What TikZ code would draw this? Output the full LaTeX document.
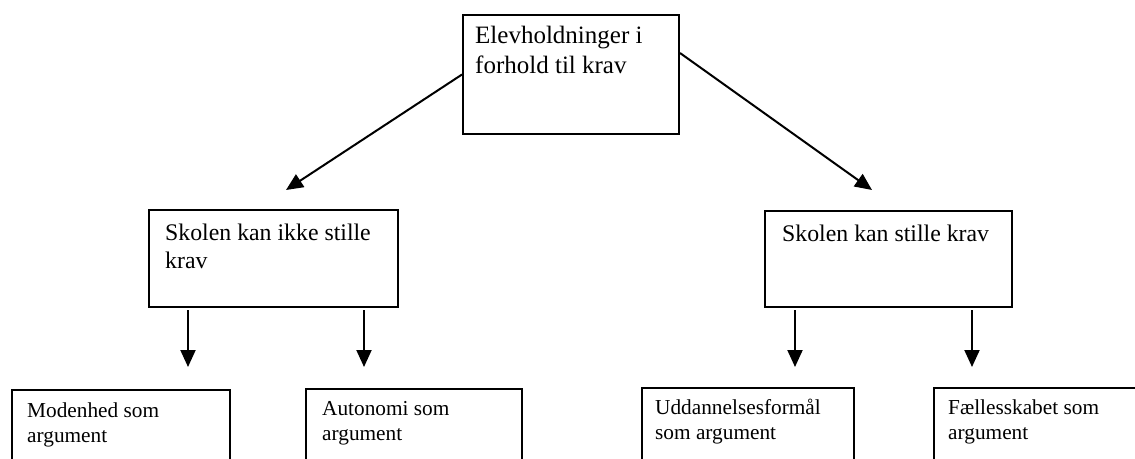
\documentclass[tikz,border=0pt]{standalone}
\usepackage{fontspec}
\setmainfont{Liberation Serif}
\usetikzlibrary{arrows.meta,calc}

\tikzset{
  frame/.style={draw=black, line width=2pt, rectangle, inner sep=0pt, anchor=north west},
  label/.style={anchor=base west, inner sep=0pt, align=left},
  toptext/.style={label, font=\fontsize{25}{30}\selectfont},
  midtext/.style={label, font=\fontsize{23.8}{27.5}\selectfont},
  lowtext/.style={label, font=\fontsize{21.3}{25}\selectfont},
  link/.style={line width=2pt, -{Triangle[length=17pt,width=15pt]}}
}

\begin{document}
\begin{tikzpicture}[x=1pt,y=-1pt]
  \useasboundingbox (0,0) rectangle (1135,458);
  \clip (0,0) rectangle (1135,458);

  % boxes
  \node[frame, minimum width=216pt, minimum height=119pt] (top) at (462,14) {};
  \node[frame, minimum width=249pt, minimum height=97pt] (lmid) at (148,209) {};
  \node[frame, minimum width=247pt, minimum height=96pt] (rmid) at (764,210) {};
  \node[frame, minimum width=218pt, minimum height=100pt] (b1) at (11,389) {};
  \node[frame, minimum width=216pt, minimum height=100pt] (b2) at (305,388) {};
  \node[frame, minimum width=212pt, minimum height=100pt] (b3) at (641,387) {};
  \node[frame, minimum width=230pt, minimum height=100pt] (b4) at (933,387) {};

  % texts (anchored at the baseline of their last line)
  \node[toptext] (ttop) at ($(top.north west)+(13,59)$) {Elevholdninger i\\forhold til krav};
  \node[midtext] (tlmid) at ($(lmid.north west)+(17,59)$) {Skolen kan ikke stille\\krav};
  \node[midtext] (trmid) at ($(rmid.north west)+(18,31)$) {Skolen kan stille krav};
  \node[lowtext] (tb1) at ($(b1.north west)+(16,53)$) {Modenhed som\\argument};
  \node[lowtext] (tb2) at ($(b2.north west)+(17,52)$) {Autonomi som\\argument};
  \node[lowtext] (tb3) at ($(b3.north west)+(14,52)$) {Uddannelsesformål\\som argument};
  \node[lowtext] (tb4) at ($(b4.north west)+(15,52)$) {Fællesskabet som\\argument};

  % free arrow ends
  \coordinate (lt) at (286,190);
  \coordinate (rt) at (872,190);
  \coordinate (rs) at ($(top.north east)+(0,39)$);
  \foreach \n/\x in {l1/188, l2/364} {
    \coordinate (\n s) at ($(lmid.south west -| \x,0)+(0,2)$);
    \coordinate (\n e) at (\x,367);
  }
  \foreach \n/\x in {r1/795, r2/972} {
    \coordinate (\n s) at ($(rmid.south west -| \x,0)+(0,2)$);
    \coordinate (\n e) at (\x,367);
  }

  % connectors
  \draw[link] (top.west) -- (lt);
  \draw[link] (rs) -- (rt);
  \draw[link] (l1s) -- (l1e);
  \draw[link] (l2s) -- (l2e);
  \draw[link] (r1s) -- (r1e);
  \draw[link] (r2s) -- (r2e);
\end{tikzpicture}
\end{document}
